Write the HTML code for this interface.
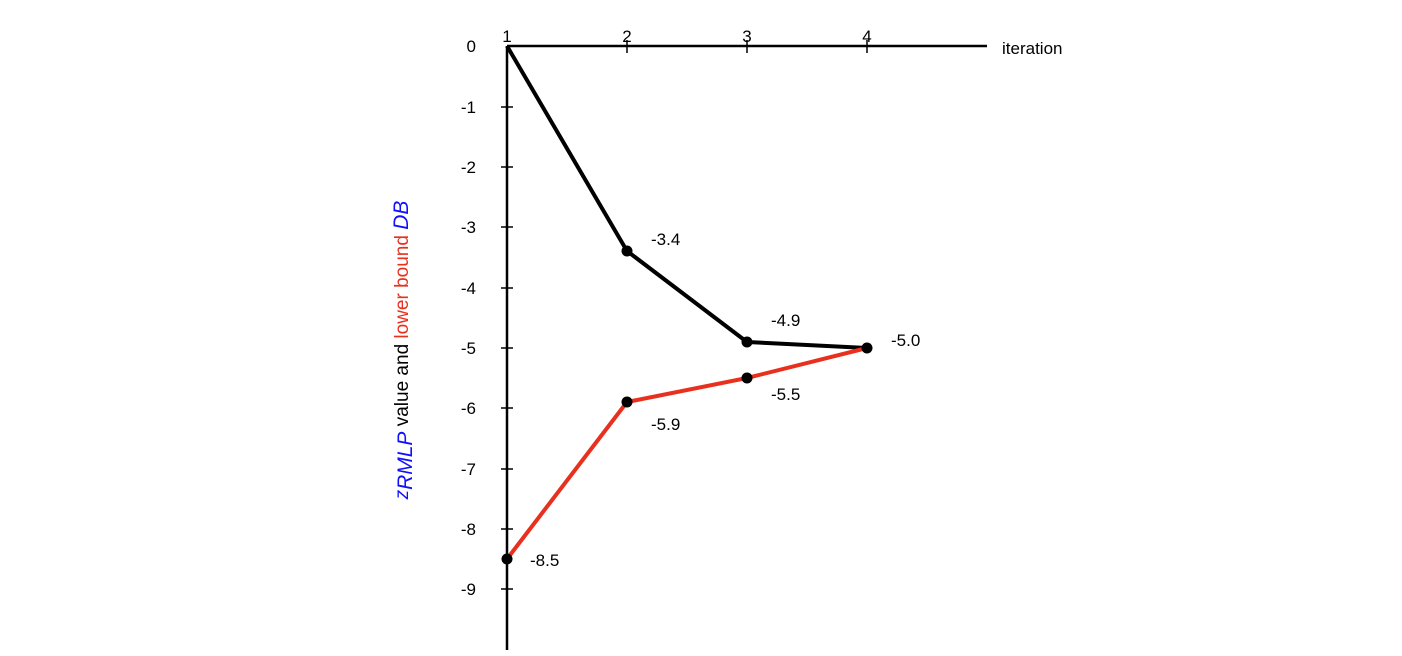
<!DOCTYPE html>
<html><head><style>body{margin:0;background:#fff}svg{display:block}</style></head><body>
<svg width="1402" height="656" viewBox="0 0 1402 656" xmlns="http://www.w3.org/2000/svg" font-family="Liberation Sans, DejaVu Sans, sans-serif" font-size="17">
<g stroke="#000" stroke-width="2.5">
<line x1="507" y1="46" x2="987" y2="46"/>
<line x1="507" y1="46" x2="507" y2="650"/>
</g>
<g stroke="#000" stroke-width="1.5">
<line x1="627" y1="40" x2="627" y2="53"/><line x1="747" y1="40" x2="747" y2="53"/><line x1="867" y1="40" x2="867" y2="53"/>
<line x1="501" y1="107" x2="513" y2="107"/><line x1="501" y1="167" x2="513" y2="167"/><line x1="501" y1="227" x2="513" y2="227"/><line x1="501" y1="288" x2="513" y2="288"/><line x1="501" y1="348" x2="513" y2="348"/><line x1="501" y1="408" x2="513" y2="408"/><line x1="501" y1="469" x2="513" y2="469"/><line x1="501" y1="529" x2="513" y2="529"/><line x1="501" y1="589" x2="513" y2="589"/>
</g>
<g text-anchor="middle">
<text x="507" y="42">1</text><text x="627" y="42">2</text><text x="747" y="42">3</text><text x="867" y="42">4</text>
</g>
<text x="1002" y="54">iteration</text>
<g text-anchor="end">
<text x="476" y="52">0</text><text x="476" y="113">-1</text><text x="476" y="173">-2</text><text x="476" y="233">-3</text><text x="476" y="294">-4</text><text x="476" y="354">-5</text><text x="476" y="414">-6</text><text x="476" y="475">-7</text><text x="476" y="535">-8</text><text x="476" y="595">-9</text>
</g>
<text transform="translate(408,350) rotate(-90)" text-anchor="middle" font-size="19"><tspan fill="#1010ff" font-style="italic">z</tspan><tspan fill="#1010ff" font-style="italic" font-size="21" dy="4">RMLP</tspan><tspan dy="-4"> value and </tspan><tspan fill="#e8301e">lower bound </tspan><tspan fill="#1010ff" font-style="italic" font-size="21">DB</tspan></text>
<polyline points="507,46 627,251 747,342 867,348" fill="none" stroke="#000" stroke-width="4"/>
<polyline points="507,559 627,402 747,378 867,348" fill="none" stroke="#e8301e" stroke-width="4"/>
<g fill="#000">
<circle cx="627" cy="251" r="5.5"/><circle cx="747" cy="342" r="5.5"/><circle cx="867" cy="348" r="5.5"/>
<circle cx="507" cy="559" r="5.5"/><circle cx="627" cy="402" r="5.5"/><circle cx="747" cy="378" r="5.5"/>
</g>
<text x="651" y="245">-3.4</text>
<text x="771" y="326">-4.9</text>
<text x="891" y="346">-5.0</text>
<text x="771" y="400">-5.5</text>
<text x="651" y="430">-5.9</text>
<text x="530" y="566">-8.5</text>
</svg>
</body></html>
